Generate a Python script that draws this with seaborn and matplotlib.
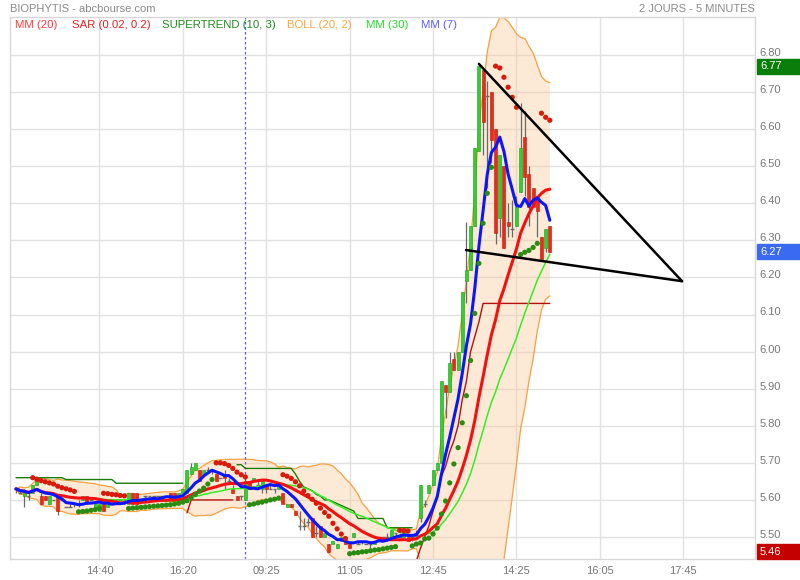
import numpy as np
import pandas as pd
import matplotlib
matplotlib.use("Agg")
import matplotlib.pyplot as plt
import seaborn as sns
from matplotlib.patches import Rectangle
from matplotlib.transforms import blended_transform_factory, ScaledTranslation

sns.set_theme(style="white")
plt.rcParams["font.family"] = ["Liberation Sans", "DejaVu Sans"]

# ---------------- data (5-minute bars, two sessions) ----------------
opens = [5.63, 5.62, 5.61, 5.61, 5.62, 5.64, 5.61, 5.61, 5.59, 5.60,
         5.61, 5.60, 5.58, 5.58, 5.59, 5.59, 5.60, 5.61, 5.60, 5.58,
         5.57, 5.59, 5.58, 5.59, 5.59, 5.60, 5.60, 5.59, 5.62, 5.62,
         5.60, 5.61, 5.61, 5.61, 5.61, 5.61, 5.61, 5.62, 5.62, 5.61,
         5.62, 5.62, 5.67, 5.68, 5.68, 5.67, 5.68, 5.68, 5.67, 5.66,
         5.67, 5.65, 5.63, 5.61, 5.61, 5.60, 5.65, 5.65, 5.64, 5.63,
         5.64, 5.63, 5.63, 5.63, 5.62, 5.58, 5.59, 5.57, 5.53, 5.53,
         5.54, 5.55, 5.51, 5.53, 5.50, 5.48, 5.48, 5.47, 5.49, 5.49,
         5.48, 5.50, 5.48, 5.49, 5.48, 5.48, 5.48, 5.50, 5.50, 5.50,
         5.50, 5.51, 5.50, 5.50, 5.50, 5.50, 5.51, 5.55, 5.59, 5.62,
         5.64, 5.68, 5.70, 5.91, 5.89, 5.98, 5.95, 6.00, 6.19, 6.22,
         6.34, 6.54, 6.76, 6.69, 6.70, 6.60, 6.36, 6.50, 6.35, 6.33,
         6.34, 6.43, 6.58, 6.48, 6.44, 6.42, 6.31, 6.28, 6.34]
closes = [5.63, 5.62, 5.62, 5.61, 5.64, 5.65, 5.59, 5.60, 5.61, 5.60,
          5.57, 5.60, 5.58, 5.58, 5.59, 5.59, 5.61, 5.59, 5.60, 5.59,
          5.59, 5.57, 5.59, 5.59, 5.60, 5.60, 5.60, 5.62, 5.59, 5.59,
          5.60, 5.61, 5.61, 5.61, 5.61, 5.61, 5.61, 5.60, 5.60, 5.62,
          5.63, 5.68, 5.69, 5.70, 5.65, 5.68, 5.68, 5.68, 5.65, 5.66,
          5.66, 5.65, 5.62, 5.60, 5.61, 5.65, 5.63, 5.66, 5.64, 5.65,
          5.63, 5.63, 5.63, 5.64, 5.59, 5.59, 5.58, 5.56, 5.53, 5.53,
          5.54, 5.50, 5.51, 5.50, 5.51, 5.46, 5.49, 5.48, 5.50, 5.48,
          5.47, 5.51, 5.48, 5.49, 5.48, 5.48, 5.49, 5.50, 5.50, 5.50,
          5.52, 5.51, 5.50, 5.51, 5.49, 5.50, 5.51, 5.64, 5.59, 5.64,
          5.68, 5.70, 5.92, 5.89, 5.97, 5.95, 6.00, 6.16, 6.22, 6.34,
          6.55, 6.77, 6.62, 6.69, 6.57, 6.32, 6.53, 6.28, 6.34, 6.33,
          6.39, 6.55, 6.47, 6.39, 6.39, 6.38, 6.25, 6.33, 6.27]
highs = [5.63, 5.63, 5.63, 5.62, 5.64, 5.66, 5.62, 5.61, 5.61, 5.60,
         5.61, 5.60, 5.58, 5.59, 5.59, 5.60, 5.61, 5.61, 5.60, 5.59,
         5.59, 5.59, 5.59, 5.59, 5.60, 5.60, 5.60, 5.62, 5.62, 5.62,
         5.60, 5.61, 5.61, 5.61, 5.61, 5.61, 5.61, 5.62, 5.62, 5.62,
         5.63, 5.68, 5.70, 5.70, 5.68, 5.68, 5.69, 5.68, 5.67, 5.66,
         5.68, 5.66, 5.64, 5.61, 5.61, 5.66, 5.65, 5.66, 5.65, 5.65,
         5.64, 5.64, 5.63, 5.64, 5.62, 5.59, 5.59, 5.57, 5.57, 5.55,
         5.55, 5.55, 5.53, 5.53, 5.51, 5.48, 5.49, 5.48, 5.50, 5.50,
         5.48, 5.51, 5.49, 5.49, 5.48, 5.49, 5.49, 5.50, 5.50, 5.51,
         5.52, 5.51, 5.51, 5.51, 5.50, 5.50, 5.52, 5.64, 5.60, 5.64,
         5.68, 5.70, 5.92, 5.91, 6.00, 6.00, 6.00, 6.16, 6.35, 6.34,
         6.55, 6.77, 6.76, 6.73, 6.70, 6.60, 6.53, 6.50, 6.40, 6.41,
         6.42, 6.67, 6.65, 6.50, 6.44, 6.42, 6.31, 6.33, 6.34]
lows = [5.62, 5.62, 5.58, 5.60, 5.62, 5.64, 5.59, 5.60, 5.59, 5.60,
        5.56, 5.60, 5.58, 5.58, 5.58, 5.58, 5.60, 5.59, 5.60, 5.58,
        5.57, 5.57, 5.58, 5.59, 5.59, 5.60, 5.59, 5.59, 5.59, 5.59,
        5.60, 5.60, 5.61, 5.60, 5.60, 5.61, 5.61, 5.60, 5.60, 5.61,
        5.62, 5.62, 5.67, 5.68, 5.65, 5.67, 5.67, 5.67, 5.65, 5.66,
        5.63, 5.65, 5.62, 5.60, 5.60, 5.60, 5.63, 5.65, 5.63, 5.62,
        5.62, 5.63, 5.62, 5.63, 5.59, 5.58, 5.58, 5.56, 5.52, 5.52,
        5.53, 5.50, 5.50, 5.50, 5.50, 5.46, 5.48, 5.47, 5.49, 5.48,
        5.47, 5.50, 5.48, 5.48, 5.48, 5.47, 5.48, 5.49, 5.50, 5.49,
        5.50, 5.50, 5.50, 5.50, 5.49, 5.49, 5.50, 5.54, 5.58, 5.62,
        5.64, 5.68, 5.70, 5.82, 5.89, 5.95, 5.95, 6.00, 6.13, 6.22,
        6.34, 6.54, 6.53, 6.44, 6.51, 6.29, 6.31, 6.28, 6.31, 6.31,
        6.34, 6.43, 6.42, 6.34, 6.39, 6.31, 6.25, 6.27, 6.27]

# Parabolic SAR (0.02, 0.2)
sar = [np.nan, np.nan, np.nan, np.nan, 5.660, 5.656, 5.652, 5.649, 5.646, 5.643,
       5.637, 5.633, 5.630, 5.627, 5.623, 5.568, 5.569, 5.570, 5.572, 5.574,
       5.577, 5.618, 5.617, 5.615, 5.614, 5.612, 5.611, 5.577, 5.578, 5.579,
       5.580, 5.581, 5.582, 5.583, 5.584, 5.585, 5.586, 5.587, 5.589, 5.591,
       5.594, 5.598, 5.606, 5.615, 5.624, 5.632, 5.643, 5.655, 5.700, 5.700,
       5.698, 5.693, 5.685, 5.675, 5.668, 5.662, 5.587, 5.589, 5.592, 5.594,
       5.597, 5.600, 5.602, 5.605, 5.668, 5.664, 5.658, 5.649, 5.638, 5.624,
       5.612, 5.602, 5.591, 5.578, 5.566, 5.556, 5.537, 5.522, 5.508, 5.496,
       5.455, 5.457, 5.458, 5.460, 5.461, 5.463, 5.465, 5.466, 5.468, 5.470,
       5.472, 5.474, 5.518, 5.517, 5.516, 5.476, 5.481, 5.484, 5.495, 5.497,
       5.508, 5.524, 5.562, 5.597, 5.646, 5.697, 5.741, 5.808, 5.881, 5.976,
       6.103, 6.238, 6.346, 6.427, 6.497, 6.770, 6.765, 6.740, 6.713, 6.686,
       6.659, 6.262, 6.268, 6.273, 6.281, 6.292, 6.643, 6.632, 6.624]

# SUPERTREND (10, 3)
supertrend = [5.660, 5.660, 5.660, 5.660, 5.660, 5.660, 5.660, 5.660, 5.660, 5.660,
              5.660, 5.660, 5.655, 5.655, 5.655, 5.655, 5.655, 5.655, 5.655, 5.655,
              5.655, 5.655, 5.655, 5.655, 5.645, 5.645, 5.645, 5.645, 5.645, 5.645,
              5.645, 5.645, 5.645, 5.645, 5.645, 5.645, 5.645, 5.645, 5.645, 5.645,
              5.645, 5.565, 5.600, 5.600, 5.600, 5.600, 5.600, 5.600, 5.600, 5.600,
              5.600, 5.600, 5.600, 5.695, 5.695, 5.685, 5.685, 5.685, 5.685, 5.685,
              5.685, 5.685, 5.685, 5.685, 5.685, 5.685, 5.685, 5.670, 5.650, 5.635,
              5.630, 5.625, 5.615, 5.610, 5.600, 5.600, 5.595, 5.590, 5.585, 5.580,
              5.575, 5.570, 5.550, 5.550, 5.550, 5.550, 5.550, 5.550, 5.550, 5.525,
              5.525, 5.525, 5.525, 5.525, 5.525, 5.525, 5.435, 5.470, 5.500, 5.530,
              5.570, 5.610, 5.665, 5.690, 5.730, 5.760, 5.800, 5.870, 5.920, 6.000,
              6.040, 6.080, 6.130, 6.130, 6.130, 6.130, 6.130, 6.130, 6.130, 6.130,
              6.130, 6.130, 6.130, 6.130, 6.130, 6.130, 6.130, 6.130, 6.130]

time_ticks = [20, 40, 60, 80, 100, 120, 140, 160]
time_labels = ["14:40", "16:20", "09:25", "11:05", "12:45", "14:25", "16:05", "17:45"]
price_ticks = [5.50, 5.60, 5.70, 5.80, 5.90, 6.00, 6.10, 6.20, 6.30, 6.40, 6.50, 6.60, 6.70, 6.80]
session_break = 54.9

# drawn triangle (trend lines)
tri_upper_x = [111.0, 159.7]
tri_upper_y = [6.776, 6.190]
tri_lower_x = [107.9, 159.7]
tri_lower_y = [6.274, 6.190]

legend_items = [("MM (20)", "#ff3b3b", 15), ("SAR (0.02, 0.2)", "#e62020", 72),
                ("SUPERTREND (10, 3)", "#1e8c1e", 162), ("BOLL (20, 2)", "#ffa640", 287),
                ("MM (30)", "#22dd22", 366), ("MM (7)", "#5a5aff", 421)]

# ---------------- frame ----------------
n = len(closes)
df = pd.DataFrame({"bar": np.arange(n), "open": opens, "high": highs,
                   "low": lows, "close": closes, "sar": sar, "st": supertrend})
c = df["close"]
df["mm7"] = c.rolling(7, min_periods=1).mean()
df["mm20"] = c.rolling(20, min_periods=1).mean()
df["mm30"] = c.rolling(30, min_periods=1).mean()
sd = c.rolling(20, min_periods=1).std(ddof=0).fillna(0)
df["bb_up"] = df["mm20"] + 2 * sd
df["bb_lo"] = df["mm20"] - 2 * sd
df["sar_side"] = np.where(df["sar"] > df["close"], "down", "up")

W, H = 800, 580
fig = plt.figure(figsize=(W / 100, H / 100), dpi=100)
L, R, T, B = 10, 755, 17, 559
ax = fig.add_axes([L / W, 1 - B / H, (R - L) / W, (B - T) / H])
ax.set_xlim(-1.44, 177.2)
ax.set_ylim(5.4407, 6.9025)

# grid & frame
ax.set_xticks(time_ticks)
ax.set_xticklabels(time_labels)
ax.set_yticks(price_ticks)
ax.set_yticklabels([f"{p:.2f}" for p in price_ticks])
ax.yaxis.tick_right()
ax.grid(True, color="#e2e2e2", lw=1.0)
ax.set_axisbelow(True)
ax.tick_params(axis="both", length=0, labelsize=8, labelcolor="#777777")
ax.tick_params(axis="y", pad=3)
ax.tick_params(axis="x", pad=5)
up_shift = ScaledTranslation(0, 1.5 / 72, fig.dpi_scale_trans)
for lab in ax.get_yticklabels():
    lab.set_va("center")
    lab.set_transform(lab.get_transform() + up_shift)
for s in ax.spines.values():
    s.set_color("#d8d8d8")
    s.set_linewidth(1.0)

# Bollinger
ax.fill_between(df["bar"], df["bb_lo"], df["bb_up"], color="#f9c38a", alpha=0.35, lw=0, zorder=1)
sns.lineplot(data=df, x="bar", y="bb_up", ax=ax, color="#f7a040", lw=0.9, zorder=2)
sns.lineplot(data=df, x="bar", y="bb_lo", ax=ax, color="#f7a040", lw=0.9, zorder=2)

# session separator
ax.axvline(session_break, color="#5b5bea", lw=0.9, ls=(0, (2, 2)), zorder=2)

# candles
ax.vlines(df["bar"], df["low"], df["high"], color="#6a6a6a", lw=0.9, zorder=3)
up = df["close"] > df["open"]
dn = df["close"] < df["open"]
eq = df["close"] == df["open"]
ax.bar(df.loc[up, "bar"], (df["close"] - df["open"])[up], bottom=df.loc[up, "open"],
       width=0.72, color="#2fd12f", edgecolor="#1f9a1f", lw=0.4, zorder=4)
ax.bar(df.loc[dn, "bar"], (df["close"] - df["open"])[dn], bottom=df.loc[dn, "open"],
       width=0.72, color="#ee2a14", edgecolor="#bb1a10", lw=0.4, zorder=4)
ax.hlines(df.loc[eq, "close"], df.loc[eq, "bar"] - 0.45, df.loc[eq, "bar"] + 0.45,
          color="#6a6a6a", lw=1.0, zorder=4)

# supertrend segments
side = np.where(df["st"] > df["close"], "above", "below")
seg = np.concatenate([[0], np.cumsum(side[1:] != side[:-1])])
df["st_seg"] = seg
for sid, g in df.groupby("st_seg"):
    col = "#1a7d0a" if side[g.index[0]] == "above" else "#b81010"
    sns.lineplot(data=g, x="bar", y="st", ax=ax, color=col, lw=1.0, zorder=5)

# moving averages
sns.lineplot(data=df, x="bar", y="mm30", ax=ax, color="#33ee22", lw=1.1, zorder=5)
sns.lineplot(data=df, x="bar", y="mm20", ax=ax, color="#f41010", lw=2.2, zorder=6)
sns.lineplot(data=df, x="bar", y="mm7", ax=ax, color="#0b16ff", lw=2.2, zorder=7)

# SAR dots
sns.scatterplot(data=df.dropna(subset=["sar"]), x="bar", y="sar", hue="sar_side",
                palette={"down": "#d81a0a", "up": "#2a8c12"}, s=14, linewidth=0,
                legend=False, ax=ax, zorder=8)

# triangle
ax.plot(tri_upper_x, tri_upper_y, color="black", lw=1.8, zorder=9, solid_capstyle="round")
ax.plot(tri_lower_x, tri_lower_y, color="black", lw=1.8, zorder=9, solid_capstyle="round")
ax.set_xlabel("")
ax.set_ylabel("")

# price boxes on right axis
trans = blended_transform_factory(ax.transAxes, ax.transData)
box_w = 46 / (R - L)
box_h = 15 / ((B - T) / (6.9025 - 5.4407))
for val, col in [(max(highs), "#0a7d0a"), (closes[-1], "#3a6af2"), (min(lows), "#c40000")]:
    ax.add_patch(Rectangle((1.0 + 1.5 / (R - L), val - box_h / 2), box_w, box_h,
                           transform=trans, color=col, clip_on=False, zorder=10))
    ax.text(1.0 + 5 / (R - L), val, f"{val:.2f}", transform=trans, color="white",
            fontsize=8, va="center", ha="left", zorder=11, clip_on=False)

# headers and legend
fig.text(L / W, 1 - 9 / H, "BIOPHYTIS - abcbourse.com", color="#8a8a8a",
         fontsize=8.0, ha="left", va="center")
fig.text(R / W, 1 - 9 / H, "2 JOURS - 5 MINUTES", color="#8a8a8a",
         fontsize=8.0, ha="right", va="center")
for label, col, px in legend_items:
    fig.text(px / W, 1 - 25 / H, label, color=col, fontsize=8.2, ha="left", va="center")

fig.savefig("out.png", dpi=100)
